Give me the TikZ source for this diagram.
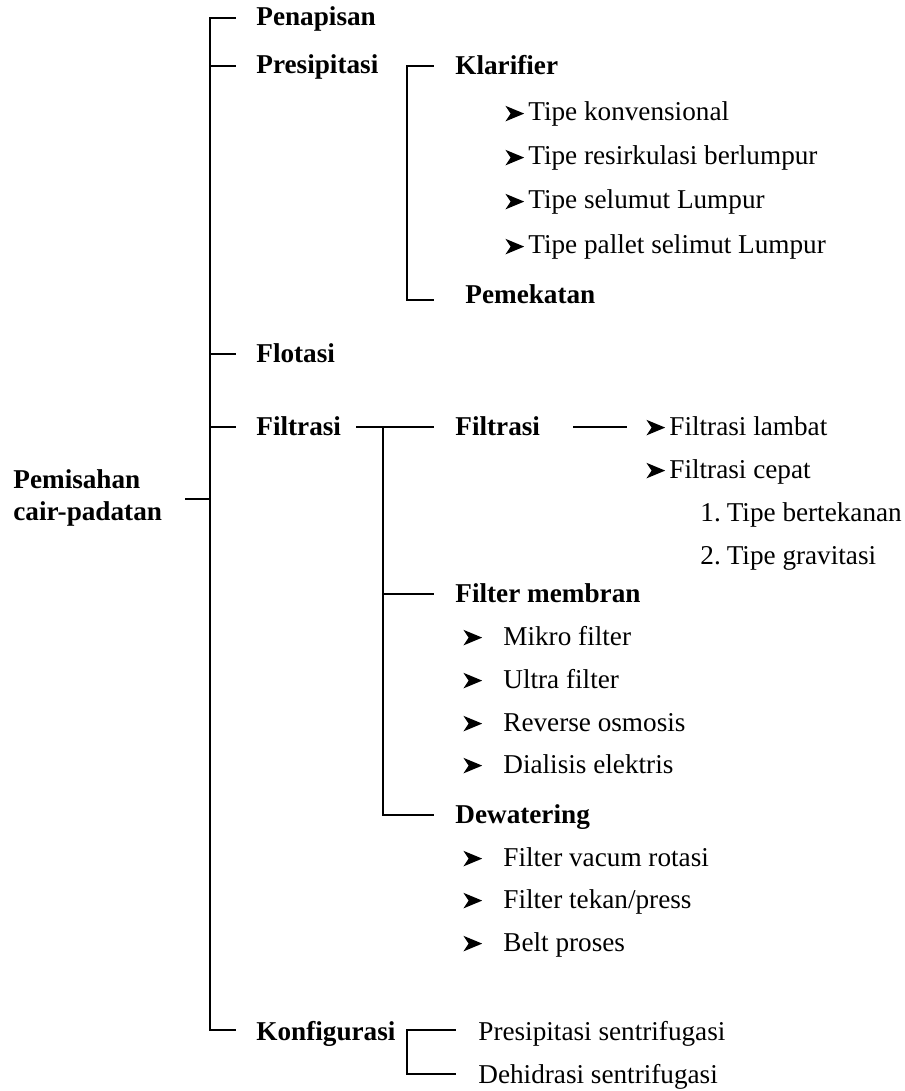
\documentclass[tikz,border=0pt]{standalone}
\usepackage{fontspec}
\setmainfont{Liberation Serif}
\newcommand{\arr}{\tikz[x=1pt,y=1pt,baseline=0pt]\fill[black] (0,-0.2) -- (9.4,3.7) -- (0,7.6) -- (2.6,3.7) -- cycle;}
\newcommand{\barrA}{\makebox[11.5pt][l]{\arr}}
\newcommand{\barrB}{\makebox[20pt][l]{\arr}}
\begin{document}
\begin{tikzpicture}[x=0.5pt,y=-0.5pt,
  hd/.style={anchor=base west, inner sep=0pt, font=\fontsize{13.6pt}{16pt}\selectfont\bfseries},
  tx/.style={anchor=base west, inner sep=0pt, font=\fontsize{13.6pt}{16pt}\selectfont},
  ln/.style={line width=1.1pt, line cap=rect}]
\useasboundingbox (0,0) rectangle (904,1091);
% root
\node[hd] (rootA) at (13,488) {Pemisahan};
\node[hd] (rootB) at (13,520) {cair-padatan};
% level 1
\node[hd] (pen) at (256,26) {Penapisan};
\node[hd] (pre) at (256,74) {Presipitasi};
\node[hd] (flo) at (256,362) {Flotasi};
\node[hd] (fil) at (256,435) {Filtrasi};
\node[hd] (kon) at (256,1040) {Konfigurasi};
% presipitasi
\node[hd] (kla) at (455,75) {Klarifier};
\node[tx] (k1) at (505,121) {\barrA Tipe konvensional};
\node[tx] (k2) at (505,165) {\barrA Tipe resirkulasi berlumpur};
\node[tx] (k3) at (505,209) {\barrA Tipe selumut Lumpur};
\node[tx] (k4) at (505,254) {\barrA Tipe pallet selimut Lumpur};
\node[hd] (pem) at (465,303) {Pemekatan};
% filtrasi
\node[hd] (fil2) at (455,435) {Filtrasi};
\node[tx] (fl1) at (646,435) {\barrA Filtrasi lambat};
\node[tx] (fl2) at (646,478) {\barrA Filtrasi cepat};
\node[tx] (n1) at (700,521) {1.\hspace{3pt}Tipe bertekanan};
\node[tx] (n2) at (700,564) {2.\hspace{3pt}Tipe gravitasi};
\node[hd] (mem) at (455,602) {Filter membran};
\node[tx] (m1) at (463,645) {\barrB Mikro filter};
\node[tx] (m2) at (463,688) {\barrB Ultra filter};
\node[tx] (m3) at (463,731) {\barrB Reverse osmosis};
\node[tx] (m4) at (463,773) {\barrB Dialisis elektris};
\node[hd] (dew) at (455,823) {Dewatering};
\node[tx] (d1) at (463,866) {\barrB Filter vacum rotasi};
\node[tx] (d2) at (463,908) {\barrB Filter tekan/press};
\node[tx] (d3) at (463,951) {\barrB Belt proses};
% konfigurasi
\node[tx] (ps) at (478,1040) {Presipitasi sentrifugasi};
\node[tx] (dh) at (478,1083) {Dehidrasi sentrifugasi};
% spine coordinates
\coordinate (rt) at (186,499);
\coordinate (s0) at (210,18);
\coordinate (s1) at (210,66);
\coordinate (s2) at (210,354);
\coordinate (s3) at (210,427);
\coordinate (s4) at (210,1030);
\coordinate (sr) at (210,499);
% main bracket
\draw[ln] (rt) -- (sr);
\draw[ln] (s0) -- (s4);
\foreach \c in {s0,s1,s2,s3,s4} \draw[ln] (\c) -- ++(25,0);
% presipitasi bracket
\coordinate (p0) at (407,66);
\coordinate (p1) at (407,300);
\draw[ln] ([xshift=13pt]p0) -- (p0) -- (p1) -- ([xshift=13pt]p1);
% filtrasi bracket
\coordinate (f0) at (357,427);
\coordinate (fv) at (383,427);
\coordinate (fm) at (383,594);
\coordinate (fd) at (383,815);
\draw[ln] (f0) -- ++(76,0);
\draw[ln] (fv) -- (fd) -- ++(50,0);
\draw[ln] (fm) -- ++(50,0);
\coordinate (fa) at (574,427);
\draw[ln] (fa) -- ++(52,0);
% konfigurasi bracket
\coordinate (c0) at (407,1030);
\coordinate (c1) at (407,1074);
\draw[ln] ([xshift=24pt]c0) -- (c0) -- (c1) -- ([xshift=24pt]c1);
\end{tikzpicture}
\end{document}
